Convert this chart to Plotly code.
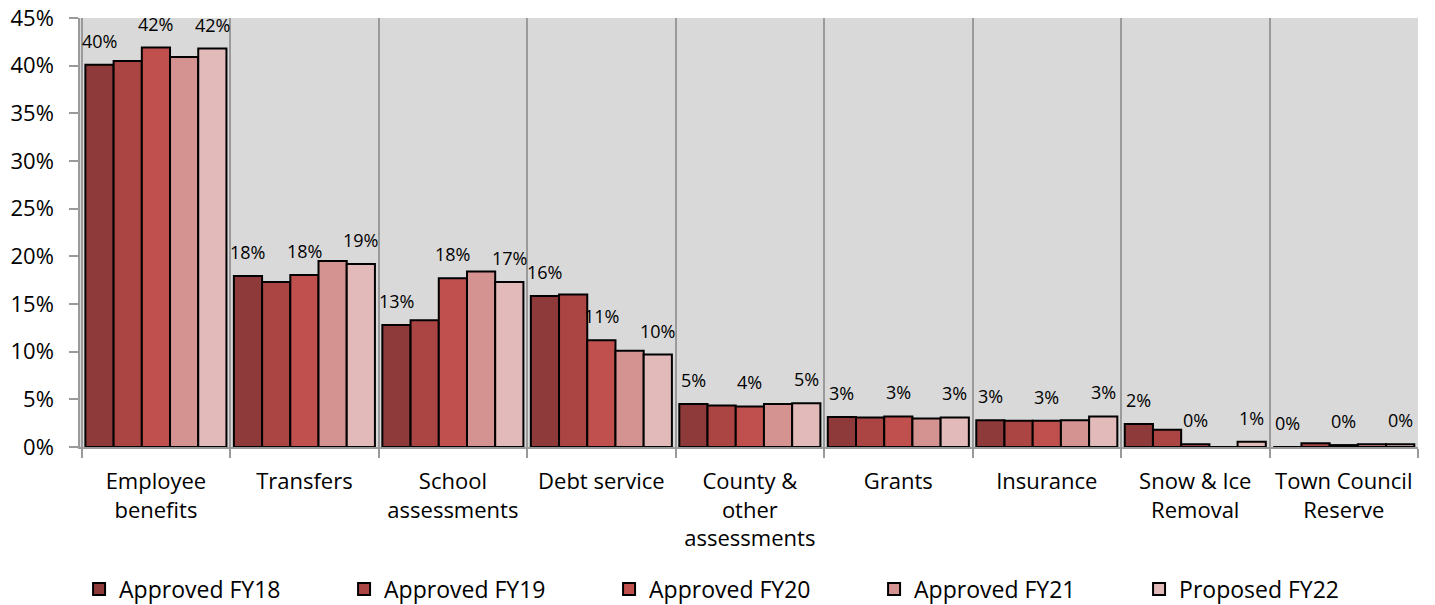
import plotly.graph_objects as go

categories = ["Employee<br>benefits", "Transfers", "School<br>assessments", "Debt service",
              "County &<br>other<br>assessments", "Grants", "Insurance",
              "Snow & Ice<br>Removal", "Town Council<br>Reserve"]

series_names = ["Approved FY18", "Approved FY19", "Approved FY20", "Approved FY21", "Proposed FY22"]

fy18 = [40.1, 17.95, 12.8, 15.85, 4.5, 3.15, 2.8, 2.4, 0.0]
fy19 = [40.5, 17.3, 13.3, 16.0, 4.35, 3.1, 2.75, 1.8, 0.4]
fy20 = [41.9, 18.05, 17.7, 11.2, 4.25, 3.2, 2.75, 0.3, 0.2]
fy21 = [40.9, 19.5, 18.4, 10.1, 4.5, 3.0, 2.8, 0.0, 0.3]
fy22 = [41.8, 19.2, 17.3, 9.7, 4.6, 3.1, 3.2, 0.55, 0.3]

series_values = [fy18, fy19, fy20, fy21, fy22]
labelled = [True, False, True, False, True]

colors = ["#8f3a3a", "#aa4544", "#c0504d", "#d49291", "#e2baba"]

y_ticks = [0, 5, 10, 15, 20, 25, 30, 35, 40, 45]
y_tick_labels = ["0%", "5%", "10%", "15%", "20%", "25%", "30%", "35%", "40%", "45%"]

FONT = "Open Sans"
BARGAP = 0.05
n_series = len(series_names)

fig = go.Figure()
for name, vals, col in zip(series_names, series_values, colors):
    fig.add_trace(go.Bar(
        name=name, x=categories, y=vals,
        marker=dict(color=col, line=dict(color="black", width=2)),
        hoverinfo="skip",
    ))

# data labels placed above the labelled bars, positioned from the group layout
annotations = []
slot = (1 - BARGAP) / n_series
for si, (vals, lab) in enumerate(zip(series_values, labelled)):
    if not lab:
        continue
    offset = (si - (n_series - 1) / 2) * slot
    for ci, v in enumerate(vals):
        annotations.append(dict(
            xref="x", yref="y", x=ci + offset, y=v,
            text=f"{int(v + 0.5)}%", showarrow=False,
            yanchor="middle", yshift=24,
            font=dict(family=FONT, size=18, color="black"),
        ))

fig.update_layout(
    width=1435, height=605,
    barmode="group", bargap=BARGAP, bargroupgap=0,
    plot_bgcolor="#d9d9d9", paper_bgcolor="white",
    margin=dict(l=80, r=17, t=18, b=158, autoexpand=False),
    font=dict(family=FONT, size=20, color="black"),
    showlegend=True,
    annotations=annotations,
    legend=dict(orientation="h", x=-0.0007, xanchor="left", y=-0.331, yanchor="middle",
                entrywidth=220, itemwidth=30, font=dict(size=23, family=FONT),
                bgcolor="rgba(0,0,0,0)"),
    xaxis=dict(
        tickson="boundaries", showgrid=True, gridcolor="#9a9a9a", gridwidth=1.5,
        ticks="outside", ticklen=9, tickcolor="#9a9a9a", tickwidth=1.5,
        showline=True, linecolor="#9a9a9a", linewidth=1.5,
        tickfont=dict(size=22, family=FONT), tickangle=0,
        ticklabelstandoff=14,
    ),
    yaxis=dict(
        range=[0, 45], tickvals=y_ticks, ticktext=y_tick_labels,
        showgrid=False, zeroline=False,
        ticks="outside", ticklen=9, tickcolor="#9a9a9a", tickwidth=1.5,
        showline=True, linecolor="#9a9a9a", linewidth=1.5,
        tickfont=dict(size=22, family=FONT),
        ticklabelstandoff=11, ticklabeloverflow="allow",
    ),
)

fig.write_html("out.html",
               config={"displayModeBar": False},
               post_script="document.body.style.margin='0';document.body.style.overflow='hidden';")
